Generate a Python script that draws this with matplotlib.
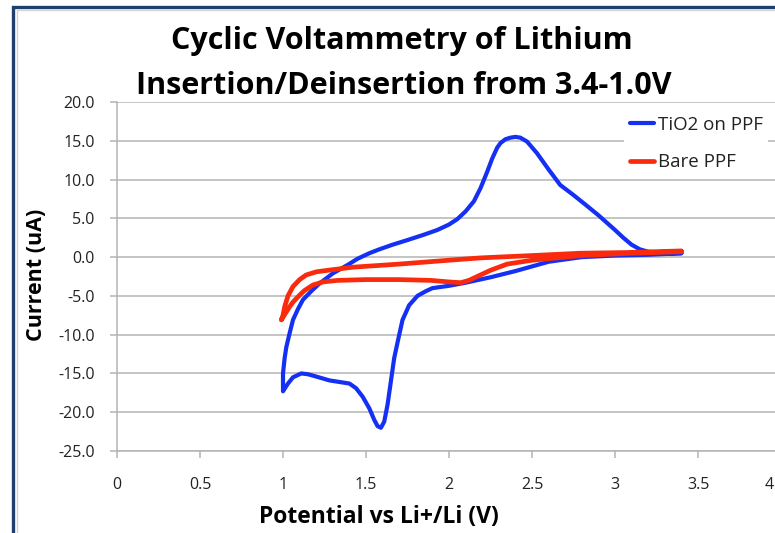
import matplotlib
matplotlib.use('Agg')
import matplotlib.pyplot as plt
from matplotlib.patches import Rectangle
from matplotlib.transforms import ScaledTranslation

plt.rcParams['font.family'] = ['Open Sans', 'DejaVu Sans']

# TiO2 on PPF: cathodic sweep 3.4 -> 1.0 V, then anodic back to 3.4 V
tio2_v = [3.40, 3.20, 3.00, 2.80, 2.60, 2.40, 2.25, 2.10, 2.00, 1.90, 1.86, 1.81,
          1.76, 1.72, 1.69, 1.67, 1.65, 1.63, 1.61, 1.59, 1.57, 1.55, 1.52, 1.48,
          1.44, 1.40, 1.34, 1.28, 1.20, 1.15, 1.11, 1.06, 1.03, 1.00,
          1.00, 1.01, 1.02, 1.04, 1.06, 1.09, 1.12, 1.17, 1.22, 1.30, 1.39, 1.45,
          1.52, 1.58, 1.66, 1.75, 1.85, 1.93, 2.00, 2.05, 2.10, 2.15, 2.19, 2.23,
          2.26, 2.29, 2.31, 2.34, 2.37, 2.40, 2.43, 2.47, 2.53, 2.60, 2.67, 2.75,
          2.82, 2.90, 3.00, 3.05, 3.10, 3.15, 3.20, 3.30, 3.40]
tio2_i = [0.5, 0.3, 0.2, 0.0, -0.6, -1.8, -2.6, -3.3, -3.7, -4.0, -4.4, -5.0,
          -6.2, -8.1, -11.0, -13.0, -16.0, -19.0, -21.2, -22.0, -21.8, -21.0, -19.5, -18.0,
          -16.9, -16.3, -16.1, -15.9, -15.4, -15.1, -15.0, -15.5, -16.3, -17.3,
          -15.0, -13.0, -11.6, -9.8, -8.1, -6.7, -5.5, -4.4, -3.4, -2.1, -1.0, -0.2,
          0.5, 1.0, 1.6, 2.2, 2.9, 3.5, 4.2, 4.9, 5.9, 7.2, 8.9, 11.0,
          12.7, 14.1, 14.7, 15.2, 15.4, 15.5, 15.4, 14.9, 13.4, 11.3, 9.3, 8.0,
          6.8, 5.4, 3.5, 2.5, 1.6, 1.0, 0.7, 0.5, 0.5]

# Bare PPF
bare_v = [3.40, 3.10, 2.80, 2.50, 2.35, 2.25, 2.18, 2.12, 2.07, 2.00, 1.89, 1.70,
          1.50, 1.33, 1.24, 1.18, 1.13, 1.10, 1.06, 1.04, 1.01, 0.99,
          1.00, 1.01, 1.03, 1.06, 1.10, 1.14, 1.20, 1.27, 1.42, 1.70, 2.00, 2.19,
          2.50, 2.79, 3.10, 3.40]
bare_i = [0.7, 0.5, 0.2, -0.4, -0.9, -1.7, -2.4, -3.0, -3.3, -3.2, -3.0, -2.9,
          -2.9, -3.0, -3.2, -3.6, -4.3, -4.9, -5.8, -6.4, -7.4, -8.1,
          -7.5, -6.4, -5.0, -3.8, -2.9, -2.3, -1.9, -1.7, -1.3, -0.9, -0.4, -0.1,
          0.2, 0.5, 0.6, 0.8]

x_ticks = [0, 0.5, 1, 1.5, 2, 2.5, 3, 3.5, 4]
x_tick_labels = ['0', '0.5', '1', '1.5', '2', '2.5', '3', '3.5', '4']
y_ticks = [-25, -20, -15, -10, -5, 0, 5, 10, 15, 20]

W, H = 775, 533
fig = plt.figure(figsize=(W / 100, H / 100), dpi=100)
# plot area runs past the right edge, as in the cropped screenshot
ax = fig.add_axes([117 / W, 1 - 451 / H, 664 / W, 349 / H])

grid_col = '#b4b4b4'
ax.plot(tio2_v, tio2_i, color='#1530f5', lw=3.0, solid_joinstyle='round',
        solid_capstyle='round', label='TiO2 on PPF', zorder=3)
ax.plot(bare_v, bare_i, color='#fa2a0c', lw=3.4, solid_joinstyle='round',
        solid_capstyle='round', label='Bare PPF', zorder=4)

ax.set_xlim(0, 4)
ax.set_ylim(-25, 20)
ax.set_xticks(x_ticks)
ax.set_xticklabels(x_tick_labels)
ax.set_yticks(y_ticks)
ax.set_yticklabels([f'{v:.1f}' for v in y_ticks])
ax.yaxis.grid(True, color=grid_col, lw=1.1)
ax.set_axisbelow(True)
for s in ['top', 'right']:
    ax.spines[s].set_visible(False)
for s in ['left', 'bottom']:
    ax.spines[s].set_color(grid_col)
    ax.spines[s].set_linewidth(1.1)
ax.tick_params(axis='both', direction='out', length=5, width=1.1, color=grid_col,
               labelsize=11.5, labelcolor='#222222')
ax.tick_params(axis='x', pad=14)
ax.tick_params(axis='y', pad=11)
# the "4" sits at the cropped right edge; nudge it back inside the picture
last = ax.get_xticklabels()[-1]
last.set_transform(last.get_transform() + ScaledTranslation(-0.12, 0, fig.dpi_scale_trans))

leg = ax.legend(loc='upper left', bbox_to_anchor=(624 / W, 1 - 110 / H),
                bbox_transform=fig.transFigure, frameon=True, fontsize=13.5,
                handlelength=1.3, handletextpad=0.2, labelspacing=1.05,
                borderpad=0.3, borderaxespad=0)
leg.get_frame().set_facecolor('white')
leg.get_frame().set_edgecolor('none')
leg.get_frame().set_alpha(1)
for t in leg.get_texts():
    t.set_color('#222222')

fig.text(402 / W, 1 - 49 / H, 'Cyclic Voltammetry of Lithium', ha='center',
         va='baseline', fontsize=22, fontweight='bold')
fig.text(404 / W, 1 - 94 / H, 'Insertion/Deinsertion from 3.4-1.0V', ha='center',
         va='baseline', fontsize=22, fontweight='bold')
fig.text(379 / W, 1 - 517 / H, 'Potential vs Li+/Li (V)', ha='center',
         va='center', fontsize=16.5, fontweight='bold')
fig.text(37 / W, 1 - 275 / H, 'Current (uA)', ha='center', va='center',
         rotation=90, fontsize=15.5, fontweight='bold')

# screenshot frame: dark blue edge with a light inner line
fig.add_artist(Rectangle((13.5 / W, -0.2), 1.2, 1.2 - 7 / H, transform=fig.transFigure,
                         fill=False, edgecolor='#1f3f6e', lw=2.4))
fig.add_artist(Rectangle((16.5 / W, -0.2), 1.2, 1.2 - 10 / H, transform=fig.transFigure,
                         fill=False, edgecolor='#d4d4d4', lw=1.0))

fig.savefig('out.png', dpi=100)
